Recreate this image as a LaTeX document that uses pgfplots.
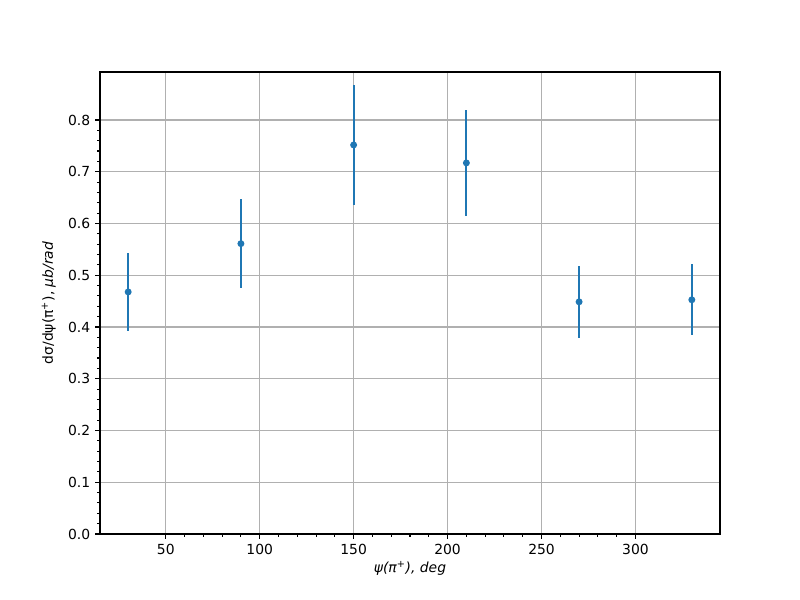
\documentclass[border=0pt]{standalone}
\usepackage{fontspec}
\setmainfont{DejaVu Sans}
\usepackage{pgfplots}
\pgfplotsset{compat=1.18}
\definecolor{mplblue}{HTML}{1F77B4}
\begin{document}
\fontsize{10}{12}\selectfont
\begin{tikzpicture}
\begin{axis}[
    scale only axis,
    width=446.4pt, height=332.64pt,
    xmin=15, xmax=345,
    ymin=0, ymax=0.8927,
    xtick={50,100,...,300},
    ytick={0,0.1,...,0.8},
    minor x tick num=4,
    minor y tick num=4,
    grid=major,
    grid style={color=black!31, line width=0.8pt},
    axis line style={line width=0.8pt},
    tick style={black, line width=0.8pt},
    major tick length=3.5pt,
    minor tick length=2pt,
    tick align=outside,
    tick pos=left,
    /pgf/number format/assume math mode=true,
    tick label style={font=\fontsize{10}{12}\selectfont},
    yticklabel style={/pgf/number format/fixed, /pgf/number format/fixed zerofill, /pgf/number format/precision=1},
    xticklabel style={/pgf/number format/fixed},
    xlabel={\textit{ψ(π\textsuperscript{+}), deg}},
    ylabel={dσ/dψ(π\textsuperscript{+}), \textit{μb/rad}},
    xlabel style={yshift=2pt},
    ylabel style={yshift=2pt},
]
% mean with symmetric error
\addplot[only marks, mark=*, mark size=1.7pt, color=mplblue, line width=1.5pt,
    mark options={draw=none, fill=mplblue},
    error bars/.cd, y dir=both, y explicit, error mark=none,
    error bar style={line width=1.5pt, color=mplblue}]
  table[x=x, y=y, y error=e] {
x   y      e
30  0.4677 0.076
90  0.561  0.086
150 0.7517 0.116
210 0.717  0.102
270 0.4486 0.0695
330 0.4525 0.0685
};
\end{axis}
\pgfresetboundingbox
\path (current axis.south west) ++(-72pt,-47.52pt) coordinate (bl);
\path (current axis.north east) ++(57.6pt,51.84pt) coordinate (tr);
\path[use as bounding box] (bl) rectangle (tr);
\end{tikzpicture}
\end{document}
